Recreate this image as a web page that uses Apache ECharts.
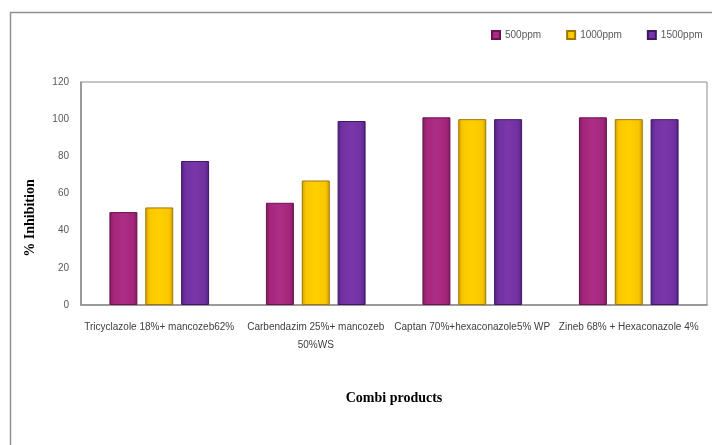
<!DOCTYPE html>
<html>
<head>
<meta charset="utf-8">
<script src="https://cdn.jsdelivr.net/npm/echarts@6/dist/echarts.min.js"></script>
<style>html,body{margin:0;padding:0;background:#fff}#c{width:712px;height:445px}</style>
</head>
<body>
<div id="c"></div>
<script>
var categories = ['Tricyclazole 18%+ mancozeb62%', 'Carbendazim 25%+ mancozeb\n50%WS', 'Captan 70%+hexaconazole5% WP', 'Zineb 68% + Hexaconazole 4%'];
var seriesNames = ['500ppm', '1000ppm', '1500ppm'];
var v500 = [50, 55, 101, 101];
var v1000 = [52.5, 67, 100, 100];
var v1500 = [77.5, 99, 100, 100];
var yTicks = {min: 0, max: 120, interval: 20};
var yTitle = '% Inhibition';
var xTitle = 'Combi products';

function grad(edge, mid, light){
  return new echarts.graphic.LinearGradient(0,0,1,0,[
    {offset:0,color:edge},{offset:0.14,color:mid},{offset:0.5,color:light},{offset:0.86,color:mid},{offset:1,color:edge}
  ]);
}
var styles = [
  {color: grad('#7a1a5c','#a3267b','#ad2d84'), borderColor:'#6a1450'},
  {color: grad('#c99a00','#f8c600','#ffd000'), borderColor:'#a07800'},
  {color: grad('#4e2079','#6f31a0','#7a37aa'), borderColor:'#3f1766'}
];
var data = [v500, v1000, v1500];
var chart = echarts.init(document.getElementById('c'));
chart.setOption({
  animation: false,
  backgroundColor: '#fff',
  graphic: [
    {type:'rect', shape:{x:10.5,y:12.5,width:800,height:600}, style:{fill:'none',stroke:'#909090',lineWidth:1.5}, z:-10},
    {type:'text', x:30, y:218, rotation:Math.PI/2, style:{text:yTitle, textAlign:'center', textVerticalAlign:'middle',
      font:'bold 14px "Liberation Serif", serif', fill:'#000'}}
  ],
  legend: {
    data: seriesNames, left: 486, top: 25, itemWidth: 8, itemHeight: 8, itemGap: 25,
    icon: 'rect',
    textStyle: {fontSize: 10, color: '#595959', fontFamily: 'Liberation Sans Narrow, Liberation Sans, sans-serif'}
  },
  grid: {left: 81, right: 5, top: 82, bottom: 140, show: true, borderColor: '#8c8c8c', borderWidth: 1, containLabel: false},
  xAxis: {
    type: 'category', data: categories,
    axisTick: {show: false},
    axisLine: {lineStyle: {color: '#8c8c8c', width: 1.5}},
    axisLabel: {interval: 0, fontSize: 10, color: '#404040', margin: 13, lineHeight: 18,
      fontFamily: 'Liberation Sans Narrow, Liberation Sans, sans-serif'},
    name: xTitle, nameLocation: 'middle', nameGap: 86,
    nameTextStyle: {fontFamily: 'Liberation Serif, serif', fontWeight: 'bold', fontSize: 14, color: '#000'}
  },
  yAxis: {
    type: 'value', min: yTicks.min, max: yTicks.max, interval: yTicks.interval,
    splitLine: {show: false},
    axisLine: {show: true, lineStyle: {color: '#8c8c8c', width: 1.5}},
    axisTick: {show: false},
    axisLabel: {fontSize: 10, color: '#595959', margin: 12, fontFamily: 'Liberation Sans, sans-serif'}
  },
  series: seriesNames.map(function(n, i){
    return {
      name: n, type: 'bar', data: data[i], barWidth: 28, barGap: '28%',
      itemStyle: {color: styles[i].color, borderColor: styles[i].borderColor, borderWidth: 1}
    };
  })
});
</script>
</body>
</html>
